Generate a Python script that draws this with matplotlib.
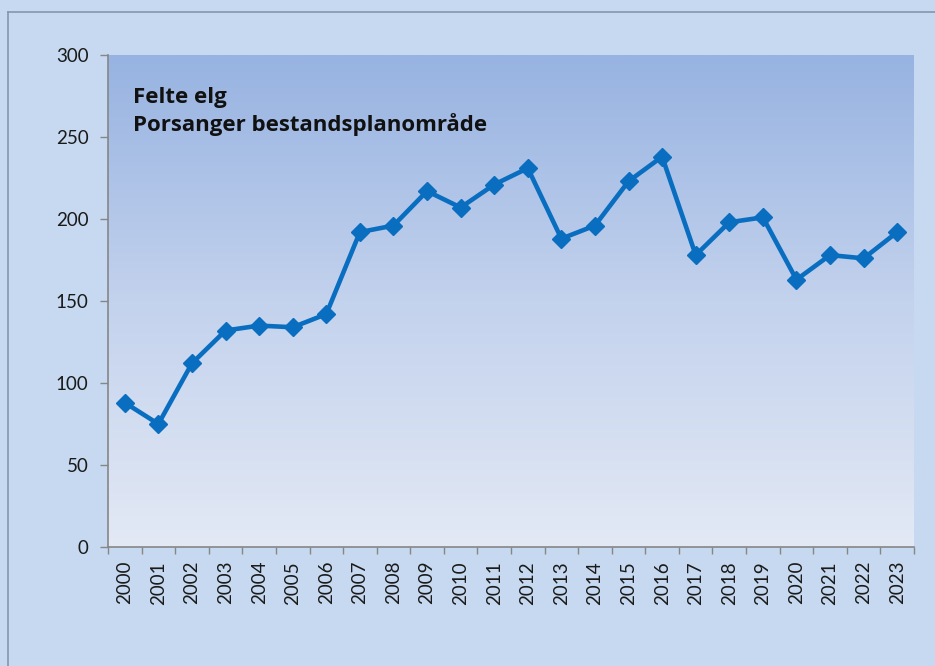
import numpy as np
import matplotlib
matplotlib.use("Agg")
import matplotlib.pyplot as plt
from matplotlib.colors import LinearSegmentedColormap
from matplotlib.ticker import FixedLocator, MultipleLocator

# Felte elg per år, Porsanger bestandsplanområde
years = [str(y) for y in range(2000, 2024)]
felte = [88, 75, 112, 132, 135, 134, 142, 192, 196, 217, 207, 221,
         231, 188, 196, 223, 238, 178, 198, 201, 163, 178, 176, 192]
title_lines = ["Felte elg", "Porsanger bestandsplanområde"]

plt.rcParams["font.family"] = ["Lato", "DejaVu Sans"]

fig = plt.figure(figsize=(9.35, 6.66), dpi=100, facecolor="#c6d9f0")
ax = fig.add_axes([108 / 935, 1 - 547 / 666, 806 / 935, 492 / 666])

# outer chart border (top and left visible)
fig.add_artist(plt.Line2D([8 / 935, 1], [1 - 11.5 / 666] * 2, transform=fig.transFigure,
                          color="#8596ad", lw=1.2))
fig.add_artist(plt.Line2D([8 / 935] * 2, [0, 1 - 11.5 / 666], transform=fig.transFigure,
                          color="#8596ad", lw=1.2))

x = np.arange(len(years))

# gradient plot area
cmap = LinearSegmentedColormap.from_list("bg", ["#e3e9f5", "#c3d2ed", "#97b3e1"])
grad = np.linspace(0, 1, 256).reshape(-1, 1)
ax.imshow(grad, cmap=cmap, origin="lower", aspect="auto",
          extent=[-0.5, len(years) - 0.5, 0, 300], zorder=0)

ax.plot(x, felte, color="#0a6ec0", lw=3.3, marker="D", markersize=9,
        solid_joinstyle="miter", zorder=3)

ax.set_xlim(-0.5, len(years) - 0.5)
ax.set_ylim(0, 300)
ax.yaxis.set_major_locator(MultipleLocator(50))
ax.set_xticks(x)
ax.set_xticklabels(years, rotation=90)
ax.xaxis.set_minor_locator(FixedLocator(np.arange(-0.5, len(years), 1.0)))
ax.tick_params(axis="x", which="major", length=0, pad=10, labelsize=13.5, colors="#1a1a1a")
ax.tick_params(axis="x", which="minor", length=5, width=1, color="#868686")
ax.tick_params(axis="y", length=6, width=1, color="#868686", pad=8,
               labelsize=13.5, labelcolor="#1a1a1a")

for side in ["top", "right"]:
    ax.spines[side].set_visible(False)
for side in ["left", "bottom"]:
    ax.spines[side].set_color("#868686")
    ax.spines[side].set_linewidth(1.2)

ax.text(0.031, 0.935, "\n".join(title_lines), transform=ax.transAxes,
        fontsize=16, fontweight="bold", family=["Open Sans", "DejaVu Sans"],
        color="#111111", va="top", ha="left", linespacing=1.3)

fig.savefig("out.png", dpi=100, facecolor=fig.get_facecolor())
